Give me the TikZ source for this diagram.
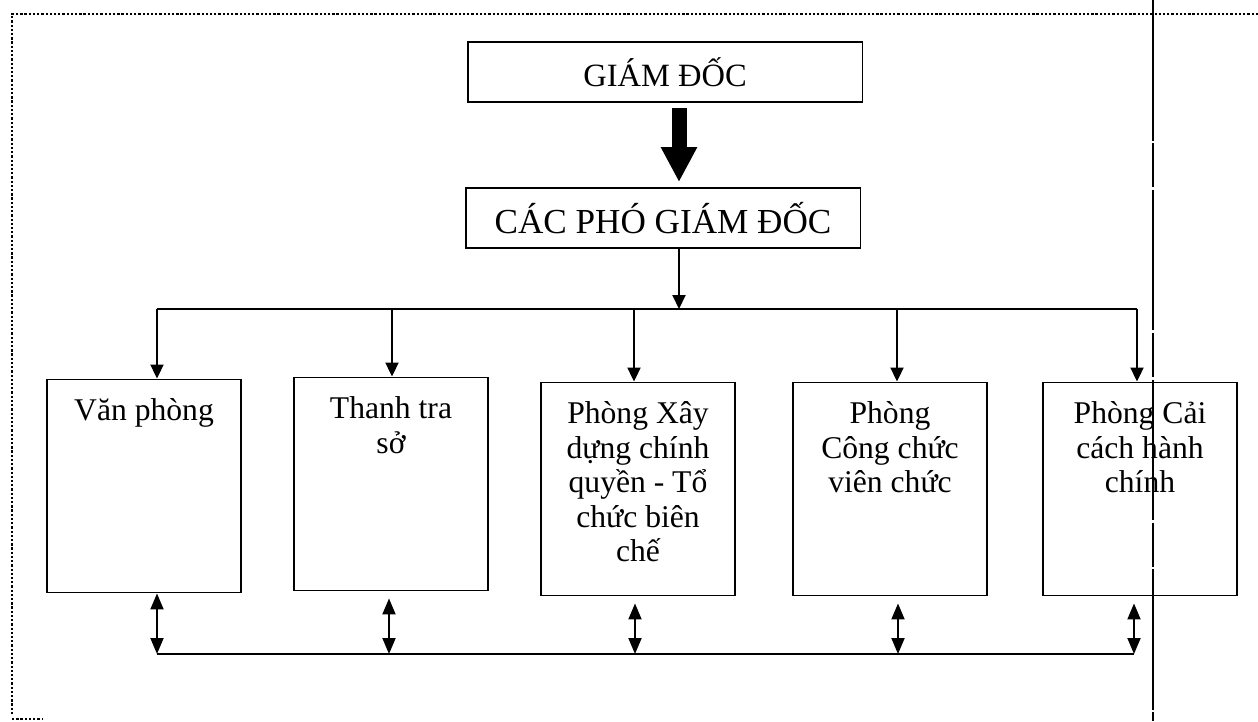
\documentclass[tikz,border=0pt]{standalone}
\usepackage{fontspec}
\setmainfont{Liberation Serif}
\usetikzlibrary{positioning,arrows.meta}
\tikzset{
  head/.style={rectangle,draw,line width=1.1pt,minimum width=7.9cm,minimum height=1.2cm,font=\fontsize{18.5}{20}\selectfont},
  dept/.style={rectangle,draw,line width=1.1pt,minimum width=3.88cm,minimum height=4.26cm},
  depttext/.style={align=center,inner sep=0pt,font=\fontsize{18}{19.6}\selectfont},
  bigedge/.style={-{Triangle[width=0.68cm,length=0.7cm]},line width=0.3cm},
  edge/.style={-{Triangle[width=0.26cm,length=0.28cm]},line width=1.1pt},
  dbledge/.style={{Triangle[width=0.26cm,length=0.32cm]}-{Triangle[width=0.26cm,length=0.32cm]},line width=1.1pt},
  bus/.style={line width=1.1pt},
  dotline/.style={line width=1.4pt,dash pattern=on 1.3pt off 1.1pt},
  sepline/.style={line width=0.7pt,dash pattern=on 80pt off 1.5pt on 25pt off 1.5pt}
}
\begin{document}
\begin{tikzpicture}[x=0.02cm,y=-0.02cm]
  \useasboundingbox (0,0) rectangle (1258,721);
  \draw[dotline] (1258,14) -- (12,14) -- (12,716);
  \draw[dotline] (12,719) -- (42,719);
  \draw[sepline] (1153,0) -- (1153,721);

  \node[head] (gd) at (665,72) {GIÁM ĐỐC};
  \node[head,font=\fontsize{20}{22}\selectfont] (pgd) at (663,218) {CÁC PHÓ GIÁM ĐỐC};

  \node[dept] (vp) at (144,486) {};
  \node[dept] (tt) at (391,484) {};
  \node[dept] (xd) at (638,489) {};
  \node[dept] (cc) at (890,489) {};
  \node[dept] (ch) at (1140,489) {};
  \node[depttext,below=0.4cm of vp.north] (vptext) {Văn phòng};
  \node[depttext,below=0.4cm of tt.north] (tttext) {Thanh tra\\sở};
  \node[depttext,below=0.4cm of xd.north] (xdtext) {Phòng Xây\\dựng chính\\quyền - Tổ\\chức biên\\chế};
  \node[depttext,below=0.4cm of cc.north] (cctext) {Phòng\\Công chức\\viên chức};
  \node[depttext,below=0.4cm of ch.north] (chtext) {Phòng Cải\\cách hành\\chính};

  \coordinate (ax) at (679,0);
  \coordinate (t1) at (157,309);
  \coordinate (t2) at (392,309);
  \coordinate (t3) at (634,309);
  \coordinate (t4) at (897,309);
  \coordinate (t5) at (1137,309);
  \coordinate (b1) at (157,654);
  \coordinate (b2) at (389,654);
  \coordinate (b3) at (635,654);
  \coordinate (b4) at (898,654);
  \coordinate (b5) at (1134,654);

  \draw[bigedge,shorten <=0.1cm,shorten >=0.1cm] (ax |- gd.south) -- (ax |- pgd.north);
  \draw[edge] (ax |- pgd.south) -- (ax |- t1);
  \draw[bus] (t1) -- (t5);
  \draw[edge] (t1) -- (t1 |- vp.north);
  \draw[edge] (t2) -- (t2 |- tt.north);
  \draw[edge] (t3) -- (t3 |- xd.north);
  \draw[edge] (t4) -- (t4 |- cc.north);
  \draw[edge] (t5) -- (t5 |- ch.north);
  \draw[bus] (b1) -- (b5);
  \draw[dbledge] (b1 |- vp.south) -- (b1);
  \draw[dbledge,shorten <=0.14cm] (b2 |- tt.south) -- (b2);
  \draw[dbledge,shorten <=0.14cm] (b3 |- xd.south) -- (b3);
  \draw[dbledge,shorten <=0.14cm] (b4 |- cc.south) -- (b4);
  \draw[dbledge,shorten <=0.14cm] (b5 |- ch.south) -- (b5);
\end{tikzpicture}
\end{document}
